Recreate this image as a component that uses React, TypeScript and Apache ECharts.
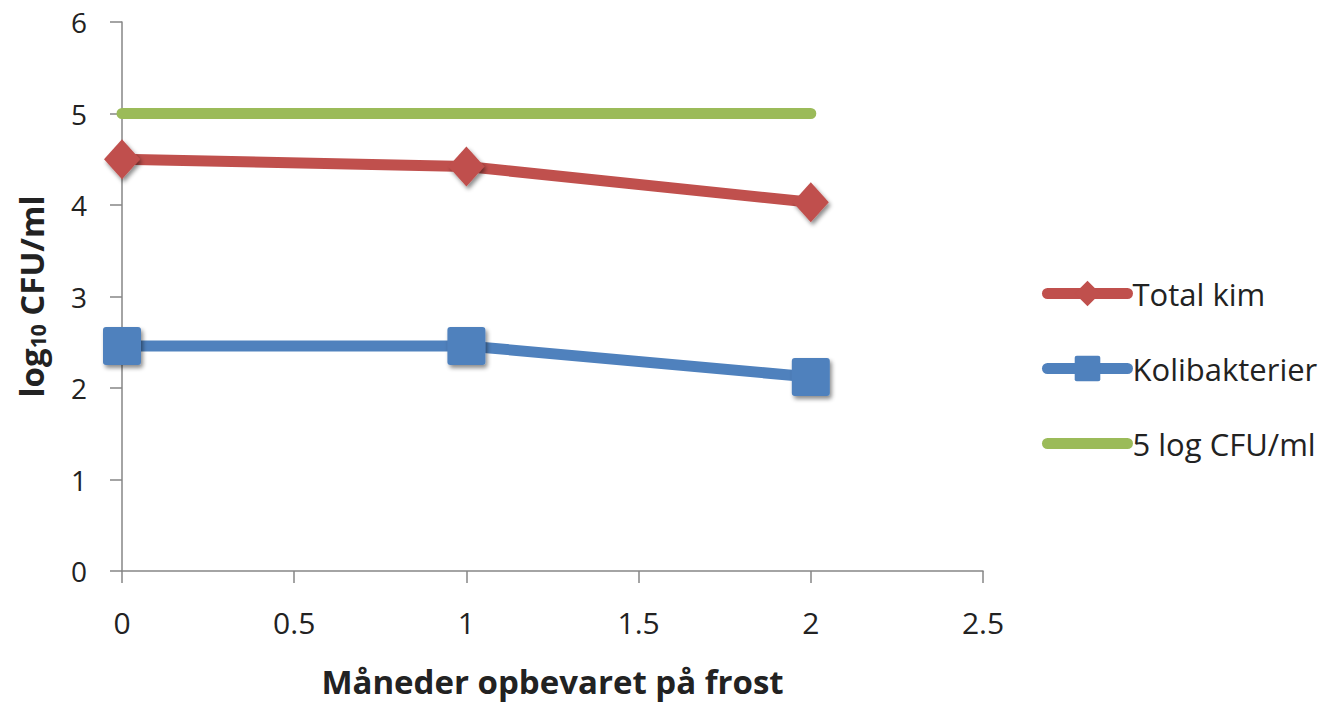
import React, { useEffect, useRef } from "react";
import * as echarts from "echarts";

const months = [0, 1, 2];
const totalKim = [4.5, 4.42, 4.03];
const kolibakterier = [2.46, 2.46, 2.12];
const threshold = [5, 5, 5];
const seriesNames = ["Total kim", "Kolibakterier", "5 log CFU/ml"];

const FONT = "'Open Sans', 'Noto Sans', sans-serif";
const AXIS_COLOR = "#868686";
const TEXT_COLOR = "#222222";
const SQUARE = "path://M3,0 H35 Q38,0 38,3 V35 Q38,38 35,38 H3 Q0,38 0,35 V3 Q0,0 3,0 Z";

export default function App() {
  const ref = useRef<HTMLDivElement>(null);

  useEffect(() => {
    if (!ref.current) return;
    const chart = echarts.init(ref.current, null, { renderer: "svg" });
    const pair = (ys: number[]) => months.map((m, i) => [m, ys[i]]);
    const shadow = {
      shadowBlur: 4,
      shadowColor: "rgba(0,0,0,0.45)",
      shadowOffsetX: 2,
      shadowOffsetY: 3,
    };
    chart.setOption({
      animation: false,
      backgroundColor: "#ffffff",
      textStyle: { fontFamily: FONT },
      grid: { left: 122, right: 359, top: 22, bottom: 132 },
      legend: {
        orient: "vertical",
        left: 1037,
        top: 273,
        itemWidth: 80,
        itemHeight: 32,
        itemGap: 44,
        lineStyle: { width: 11, cap: "round" },
        itemStyle: { shadowBlur: 0, shadowOffsetX: 0, shadowOffsetY: 0 },
        data: [
          { name: seriesNames[0] },
          { name: seriesNames[1] },
          { name: seriesNames[2], itemStyle: { opacity: 0 } },
        ],
        textStyle: { fontSize: 31, color: TEXT_COLOR, fontFamily: FONT },
      },
      xAxis: {
        type: "value",
        min: 0,
        max: 2.5,
        interval: 0.5,
        name: "Måneder opbevaret på frost",
        nameLocation: "middle",
        nameGap: 94,
        nameTextStyle: {
          fontSize: 33,
          fontWeight: "bold",
          color: TEXT_COLOR,
          fontFamily: FONT,
        },
        axisLine: { show: true, lineStyle: { color: AXIS_COLOR, width: 1.5 } },
        axisTick: { show: true, inside: false, length: 12, lineStyle: { color: AXIS_COLOR, width: 1.5 } },
        axisLabel: { fontSize: 30, color: TEXT_COLOR, margin: 36, fontFamily: FONT },
        splitLine: { show: false },
      },
      yAxis: {
        type: "value",
        min: 0,
        max: 6,
        interval: 1,
        name: "{a|log}{sub|10}{a| CFU/ml}",
        nameLocation: "middle",
        nameGap: 74,
        nameRotate: 90,
        nameTextStyle: {
          rich: {
            a: { fontSize: 33, fontWeight: "bold", color: TEXT_COLOR, fontFamily: FONT },
            sub: {
              fontSize: 21,
              fontWeight: "bold",
              color: TEXT_COLOR,
              fontFamily: FONT,
              verticalAlign: "bottom",
              padding: [12, 0, 0, 0],
            },
          },
        },
        axisLine: { show: true, lineStyle: { color: AXIS_COLOR, width: 1.5 } },
        axisTick: { show: true, inside: false, length: 12, lineStyle: { color: AXIS_COLOR, width: 1.5 } },
        axisLabel: { fontSize: 28, color: TEXT_COLOR, margin: 35, fontFamily: FONT },
        splitLine: { show: false },
      },
      series: [
        {
          name: seriesNames[0],
          type: "line",
          data: pair(totalKim),
          symbol: "diamond",
          symbolSize: [36, 40],
          lineStyle: { color: "#C0504D", width: 11, cap: "round", join: "round" },
          itemStyle: { color: "#C0504D", ...shadow },
          z: 3,
        },
        {
          name: seriesNames[1],
          type: "line",
          data: pair(kolibakterier),
          symbol: SQUARE,
          symbolSize: 38,
          lineStyle: { color: "#4F81BD", width: 11, cap: "round", join: "round" },
          itemStyle: { color: "#4F81BD", ...shadow },
          z: 3,
        },
        {
          name: seriesNames[2],
          type: "line",
          data: pair(threshold),
          symbol: "none",
          lineStyle: { color: "#9BBB59", width: 11, cap: "round" },
          itemStyle: { color: "#9BBB59" },
          z: 2,
        },
      ],
    });
    return () => chart.dispose();
  }, []);

  return (
    <div
      ref={ref}
      style={{ position: "fixed", left: 0, top: 0, width: 1342, height: 703, background: "#fff" }}
    />
  );
}
